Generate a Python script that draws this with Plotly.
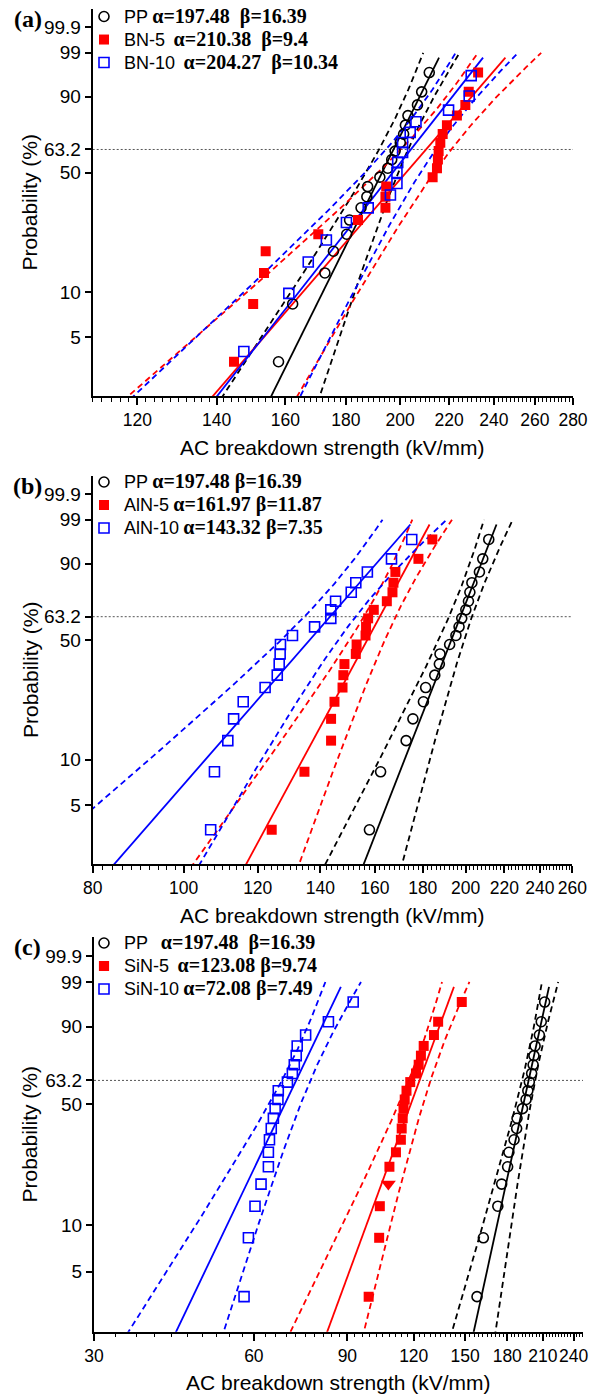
import numpy as np
import plotly.graph_objects as go

# ------------------------------------------------------------------ data
# cumulative failure probability (%) of each ranked point
prob_20 = [3.43, 8.33, 13.24, 18.14, 23.04, 27.94, 32.84, 37.75, 42.65, 47.55,
           52.45, 57.35, 62.25, 67.16, 72.06, 76.96, 81.86, 86.76, 91.67, 96.57]
prob_17 = [4.02, 9.77, 15.52, 21.26, 27.01, 32.76, 38.51, 44.25, 50.00,
           55.75, 61.49, 67.24, 72.99, 78.74, 84.48, 90.23, 95.98]

# AC breakdown strength (kV/mm), ranked
pp = [157.9, 162.3, 172.8, 175.7, 180.3, 181.3, 185.4, 187.5, 187.8, 192.3,
      195.3, 196.8, 198.1, 200.1, 201.4, 202.1, 203.1, 206.9, 208.6, 211.7]
bn5 = [144.8, 150.3, 153.5, 154.0, 170.6, 184.3, 194.4, 194.4, 194.7, 213.1,
       214.9, 215.3, 215.6, 216.3, 217.3, 219.1, 223.4, 227.1, 228.6, 232.8]
bn10 = [147.6, 161.1, 167.3, 173.3, 180.2, 188.0, 196.3, 198.8, 198.8,
        199.1, 201.0, 201.0, 204.0, 206.3, 219.8, 228.8, 229.7]
aln5 = [124.2, 134.6, 143.7, 143.7, 144.9, 147.8, 148.1, 148.5, 152.7, 153.0,
        156.4, 156.6, 157.4, 159.6, 164.8, 167.1, 167.5, 168.3, 178.1, 184.3]
aln10 = [106.9, 107.9, 111.5, 113.1, 115.8, 122.2, 125.9, 126.5, 126.8, 126.9,
         130.7, 138.0, 143.6, 143.6, 145.3, 151.0, 152.7, 157.1, 166.7, 175.2]
sin5 = [98.7, 103.3, 103.6, 107.5, 108.0, 111.1, 113.5, 113.9, 114.4, 114.8,
        115.4, 116.3, 118.2, 121.2, 122.6, 123.8, 125.3, 131.0, 133.4, 147.8]
sin10 = [57.5, 58.6, 60.3, 61.9, 63.9, 63.9, 64.2, 64.7, 65.3, 65.8,
         66.6, 66.7, 69.4, 70.9, 71.5, 72.1, 72.4, 75.1, 82.9, 92.3]

# Weibull parameters shown in the legends
names_a = ["PP", "BN-5", "BN-10"]
alpha_a = [197.48, 210.38, 204.27]
beta_a = [16.39, 9.4, 10.34]
names_b = ["PP", "AlN-5", "AlN-10"]
alpha_b = [197.48, 161.97, 143.32]
beta_b = [16.39, 11.87, 7.35]
names_c = ["PP", "SiN-5", "SiN-10"]
alpha_c = [197.48, 123.08, 72.08]
beta_c = [16.39, 9.74, 7.49]

panel_labels = ["(a)", "(b)", "(c)"]

# axis ticks
y_tick_pct = [5, 10, 50, 63.2, 90, 99, 99.9]
y_tick_text = ["5", "10", "50", "63.2", "90", "99", "99.9"]
x_ticks_a = [120, 140, 160, 180, 200, 220, 240, 260, 280]
x_ticks_b = [80, 100, 120, 140, 160, 180, 200, 220, 240, 260]
x_ticks_c = [30, 60, 90, 120, 150, 180, 210, 240]
x_range_a = [110, 280]
x_range_b = [80, 260]
x_range_c = [30, 250]
x_minor_step = [2, 2, 3]

x_title = "AC breakdown strength (kV/mm)"
y_title = "Probability (%)"

# ------------------------------------------------------------------ helpers
W, H = 598, 1397
SANS = "Liberation Sans, Arial, sans-serif"
SERIF = "Liberation Serif, Times New Roman, serif"
colors = ["#000000", "#FF0000", "#0000FF"]
symbols = ["circle-open", "square", "square-open"]


def wb(pct):
    p = np.asarray(pct, dtype=float) / 100.0
    return np.log(-np.log(1.0 - p))


# pixel boxes of the three plot areas: (left, right, top, bottom)
boxes = [(92.7, 573.0, 8.0, 395.5),
         (92.7, 572.4, 475.0, 864.0),
         (94.0, 583.0, 937.0, 1331.7)]
legend_top = [-1.5, 465.5, 926.5]
label_gaps = [([1, 2, 2], [2, 2, 2]), ([1, 1, 1], [1, 1, 1]), ([3, 2, 1], [2, 1, 1])]

panels = [
    (names_a, alpha_a, beta_a, [pp, bn5, bn10], [prob_20, prob_20, prob_17], x_ticks_a, x_range_a),
    (names_b, alpha_b, beta_b, [pp, aln5, aln10], [prob_20, prob_20, prob_20], x_ticks_b, x_range_b),
    (names_c, alpha_c, beta_c, [pp, sin5, sin10], [prob_20, prob_20, prob_20], x_ticks_c, x_range_c),
]

Y_RANGE = [-3.90, 2.22]
Z = 1.96

fig = go.Figure()
annotations = []
shapes = []
layout_axes = {}

for k, (names, alphas, betas, xs, probs, xticks, xr) in enumerate(panels):
    xa = "x" if k == 0 else f"x{k + 1}"
    ya = "y" if k == 0 else f"y{k + 1}"
    leg = "legend" if k == 0 else f"legend{k + 1}"
    # fit lines + confidence bounds
    for j in range(3):
        a, b, n = alphas[j], betas[j], len(xs[j])
        w_line = wb([1.0, 98.6])
        fig.add_trace(go.Scatter(x=a * np.exp(w_line / b), y=w_line, mode="lines",
                                 line=dict(color=colors[j], width=1.8),
                                 xaxis=xa, yaxis=ya, showlegend=False, hoverinfo="skip"))
        w_ci = np.linspace(wb(1.0), wb(99.0), 160)
        var = (1.1087 - 0.514 * w_ci + 0.6079 * w_ci ** 2) / (n * b * b)
        half = Z * np.sqrt(var)
        for sgn in (-1, 1):
            fig.add_trace(go.Scatter(x=a * np.exp(w_ci / b + sgn * half), y=w_ci, mode="lines",
                                     line=dict(color=colors[j], width=1.8, dash="6px,4px"),
                                     xaxis=xa, yaxis=ya, showlegend=False, hoverinfo="skip"))
    # data markers
    gaps1, gaps2 = label_gaps[k]
    for j in range(3):
        lab = (f'<span style="font-size:18px">{names[j]}</span>' + "\u00a0" * gaps1[j] +
               f'<span style="font-family:{SERIF};font-size:20px"><b>\u03b1={alphas[j]}</b>' +
               "\u00a0" * gaps2[j] + f'<b>\u03b2={betas[j]}</b></span>')
        filled = symbols[j] == "square"
        sym = symbols[j]
        size = 10
        if k == 2 and j == 1:
            # one marker in the SiN-5 series is rendered as a down-pointing shape
            sym = [symbols[j]] * len(xs[j])
            sym[3] = "triangle-down"
            size = [10] * len(xs[j])
            size[3] = 13
        fig.add_trace(go.Scatter(
            x=xs[j], y=wb(probs[j]), mode="markers", name=lab,
            marker=dict(symbol=sym, size=size, color=colors[j], opacity=1,
                        line=dict(color=colors[j], width=0 if filled else 1.6)),
            xaxis=xa, yaxis=ya, legend=leg, showlegend=True))

    l, r, t, btm = boxes[k]
    xdom = [l / W, r / W]
    ydom = [1 - btm / H, 1 - t / H]
    minor_vals = [v for v in range(int(xr[0]), int(xr[1]) + 1, x_minor_step[k]) if v not in xticks]
    layout_axes["xaxis" if k == 0 else f"xaxis{k + 1}"] = dict(
        type="log", range=[np.log10(xr[0]), np.log10(xr[1])], domain=xdom,
        anchor=ya, tickmode="array", tickvals=xticks, ticktext=[str(v) for v in xticks],
        tickangle=0,
        ticks="outside", ticklen=7, tickwidth=1.5, tickcolor="black",
        showline=True, linewidth=2, linecolor="black", showgrid=False, zeroline=False,
        tickfont=dict(family=SANS, size=17.5, color="black"), automargin=False,
        minor=dict(tickmode="array", tickvals=minor_vals, ticks="outside", ticklen=3.5,
                   tickwidth=1.2, tickcolor="black", showgrid=False))
    layout_axes["yaxis" if k == 0 else f"yaxis{k + 1}"] = dict(
        range=Y_RANGE, domain=ydom, anchor=xa, tickmode="array",
        tickvals=list(wb(y_tick_pct)), ticktext=y_tick_text,
        ticks="outside", ticklen=6, tickwidth=1.5, tickcolor="black",
        showline=True, linewidth=2, linecolor="black", showgrid=False, zeroline=False,
        tickfont=dict(family=SANS, size=19, color="black"), automargin=False)
    layout_axes[leg] = dict(
        x=84 / W, y=1 - legend_top[k] / H, xanchor="left", yanchor="top",
        bgcolor="rgba(0,0,0,0)", borderwidth=0,
        font=dict(family=SANS, size=15.4, color="black"), itemclick=False)
    # 63.2 % reference line
    shapes.append(dict(type="line", xref=f"{xa} domain", x0=0, x1=1, yref=ya,
                       y0=float(wb(63.2)), y1=float(wb(63.2)), layer="below",
                       line=dict(color="#555555", width=1, dash="2px,2px")))
    # titles and panel labels
    annotations.append(dict(text=x_title, xref="paper", yref="paper",
                            x=(xdom[0] + xdom[1]) / 2, y=1 - (btm + 51) / H,
                            xanchor="center", yanchor="middle", showarrow=False,
                            font=dict(family=SANS, size=21, color="black")))
    annotations.append(dict(text=y_title, xref="paper", yref="paper", textangle=-90,
                            x=30 / W, y=(ydom[0] + ydom[1]) / 2,
                            xanchor="center", yanchor="middle", showarrow=False,
                            font=dict(family=SANS, size=21, color="black")))
    annotations.append(dict(text=f"<b>{panel_labels[k]}</b>", xref="paper", yref="paper",
                            x=28 / W, y=1 - (t + 10) / H,
                            xanchor="center", yanchor="middle", showarrow=False,
                            font=dict(family=SERIF, size=24, color="black")))

fig.update_layout(width=W, height=H, margin=dict(l=0, r=0, t=0, b=0, pad=0),
                  plot_bgcolor="white", paper_bgcolor="white",
                  annotations=annotations, shapes=shapes, **layout_axes)

fig.write_html("out.html", include_plotlyjs=True, full_html=True,
               config={"displayModeBar": False},
               post_script="document.body.style.margin='0';")
